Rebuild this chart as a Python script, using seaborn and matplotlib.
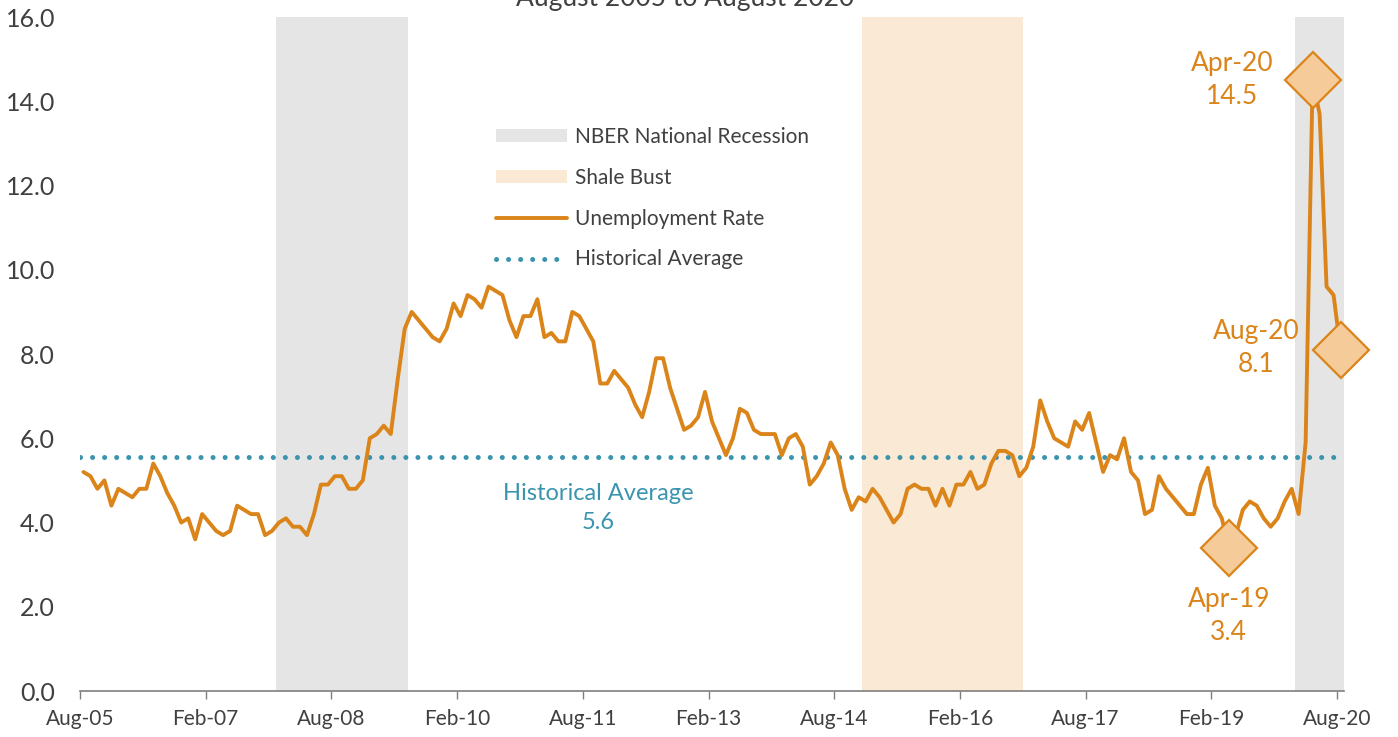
import pandas as pd
import matplotlib
matplotlib.use("Agg")
import matplotlib.pyplot as plt
import seaborn as sns
from matplotlib.patches import Patch
from matplotlib.lines import Line2D

# monthly unemployment rate, Aug-05 .. Aug-20
MONTHS = pd.date_range("2005-08-01", "2020-08-01", freq="MS").strftime("%b-%y").tolist()
RATE = [
    5.2, 5.1, 4.8, 5.0, 4.4, 4.8, 4.7, 4.6, 4.8, 4.8, 5.4, 5.1,   # Aug-05 .. Jul-06
    4.7, 4.4, 4.0, 4.1, 3.6, 4.2, 4.0, 3.8, 3.7, 3.8, 4.4, 4.3,   # Aug-06 .. Jul-07
    4.2, 4.2, 3.7, 3.8, 4.0, 4.1, 3.9, 3.9, 3.7, 4.2, 4.9, 4.9,   # Aug-07 .. Jul-08
    5.1, 5.1, 4.8, 4.8, 5.0, 6.0, 6.1, 6.3, 6.1, 7.4, 8.6, 9.0,   # Aug-08 .. Jul-09
    8.8, 8.6, 8.4, 8.3, 8.6, 9.2, 8.9, 9.4, 9.3, 9.1, 9.6, 9.5,   # Aug-09 .. Jul-10
    9.4, 8.8, 8.4, 8.9, 8.9, 9.3, 8.4, 8.5, 8.3, 8.3, 9.0, 8.9,   # Aug-10 .. Jul-11
    8.6, 8.3, 7.3, 7.3, 7.6, 7.4, 7.2, 6.8, 6.5, 7.1, 7.9, 7.9,   # Aug-11 .. Jul-12
    7.2, 6.7, 6.2, 6.3, 6.5, 7.1, 6.4, 6.0, 5.6, 6.0, 6.7, 6.6,   # Aug-12 .. Jul-13
    6.2, 6.1, 6.1, 6.1, 5.6, 6.0, 6.1, 5.8, 4.9, 5.1, 5.4, 5.9,   # Aug-13 .. Jul-14
    5.6, 4.8, 4.3, 4.6, 4.5, 4.8, 4.6, 4.3, 4.0, 4.2, 4.8, 4.9,   # Aug-14 .. Jul-15
    4.8, 4.8, 4.4, 4.8, 4.4, 4.9, 4.9, 5.2, 4.8, 4.9, 5.4, 5.7,   # Aug-15 .. Jul-16
    5.7, 5.6, 5.1, 5.3, 5.8, 6.9, 6.4, 6.0, 5.9, 5.8, 6.4, 6.2,   # Aug-16 .. Jul-17
    6.6, 5.9, 5.2, 5.6, 5.5, 6.0, 5.2, 5.0, 4.2, 4.3, 5.1, 4.8,   # Aug-17 .. Jul-18
    4.6, 4.4, 4.2, 4.2, 4.9, 5.3, 4.4, 4.1, 3.4, 3.7, 4.3, 4.5,   # Aug-18 .. Jul-19
    4.4, 4.1, 3.9, 4.1, 4.5, 4.8, 4.2, 5.9, 14.5, 13.7, 9.6, 9.4,  # Aug-19 .. Jul-20
    8.1,                                                           # Aug-20
]
HIST_AVG = 5.56
HIST_AVG_LABEL = "5.6"

# shaded periods (first month, last month)
NBER = ("Dec-07", "Jun-09")
SHALE = ("Dec-14", "Oct-16")
COVID = ("Feb-20", "Aug-20")

CALLOUTS = ["Apr-19", "Apr-20", "Aug-20"]
TICK_MONTHS = MONTHS[::18]

ORANGE = "#DB8419"
DIAMOND_FILL = "#F5CC99"
TEAL = "#3A94AE"
GREY_BAND = "#E5E5E5"
SHALE_BAND = "#FAE9D5"
TEXT = "#404040"

df = pd.DataFrame({"month": MONTHS, "rate": RATE})
df["pos"] = df.index + 0.5  # values sit in the middle of each month slot

sns.set_style("white")
plt.rcParams["font.family"] = ["Lato", "DejaVu Sans"]

fig = plt.figure(figsize=(13.98, 7.37), dpi=100)
ax = fig.add_axes([0.0572, 0.0624, 0.9042, 0.9145])


def span(period, color):
    start = MONTHS.index(period[0])
    end = MONTHS.index(period[1]) + 1
    ax.axvspan(start, end, color=color, lw=0, zorder=0)


span(NBER, GREY_BAND)
span(SHALE, SHALE_BAND)
span(COVID, GREY_BAND)

ax.axhline(HIST_AVG, color=TEAL, lw=3.6, dashes=(0.01, 2.4),
           dash_capstyle="round", zorder=2)

sns.lineplot(data=df, x="pos", y="rate", color=ORANGE, lw=2.8, ax=ax, zorder=3)

marks = df[df["month"].isin(CALLOUTS)]
ax.plot(marks["pos"], marks["rate"], ls="none", marker="D", ms=29,
        mfc=DIAMOND_FILL, mec=ORANGE, mew=1.6, zorder=4, clip_on=False)

offsets = {"Apr-19": (0, -49), "Apr-20": (-58, 0), "Aug-20": (-61, 1)}
for _, r in marks.iterrows():
    ax.annotate(f"{r['month']}\n{r['rate']:.1f}", xy=(r["pos"], r["rate"]),
                xytext=offsets[r["month"]], textcoords="offset points",
                ha="center", va="center", color=ORANGE, fontsize=19,
                linespacing=1.4, zorder=5)

ax.annotate(f"Historical Average\n{HIST_AVG_LABEL}", xy=(74.2, HIST_AVG),
            xytext=(0, -37), textcoords="offset points", ha="center",
            va="center", color=TEAL, fontsize=17, linespacing=1.45)

ax.set_xlim(0, len(MONTHS))
ax.set_ylim(0, 16)
ax.set_xticks([MONTHS.index(m) for m in TICK_MONTHS])
ax.set_xticklabels(TICK_MONTHS)
ax.set_yticks(range(0, 17, 2))
ax.set_yticklabels([f"{v:.1f}" for v in range(0, 17, 2)])
ax.set_xlabel("")
ax.set_ylabel("")
ax.tick_params(axis="x", length=6, width=1, color="#7F7F7F", pad=7,
               labelsize=15, labelcolor=TEXT, direction="out", bottom=True)
ax.tick_params(axis="y", length=0, pad=18, labelsize=18, labelcolor=TEXT)
for side in ["left", "right", "top"]:
    ax.spines[side].set_visible(False)
ax.spines["bottom"].set_color("#7F7F7F")
ax.spines["bottom"].set_linewidth(1.2)

handles = [
    Patch(facecolor=GREY_BAND, edgecolor="none", label="NBER National Recession"),
    Patch(facecolor=SHALE_BAND, edgecolor="none", label="Shale Bust"),
    Line2D([], [], color=ORANGE, lw=2.8, label="Unemployment Rate"),
    Line2D([], [], color=TEAL, lw=3.6, dashes=(0.01, 2.4), dash_capstyle="round",
           label="Historical Average"),
]
leg = ax.legend(handles=handles, loc="upper left", bbox_to_anchor=(0.329, 0.837),
                frameon=False, fontsize=15, handlelength=3.4, handleheight=0.55,
                handletextpad=0.4, labelspacing=1.0, borderpad=0, borderaxespad=0)
for t in leg.get_texts():
    t.set_color(TEXT)

fig.text(0.49, 1 - 6 / 737, "August 2005 to August 2020", ha="center",
         va="baseline", fontsize=19, color=TEXT)

fig.savefig("out.png", dpi=100)
